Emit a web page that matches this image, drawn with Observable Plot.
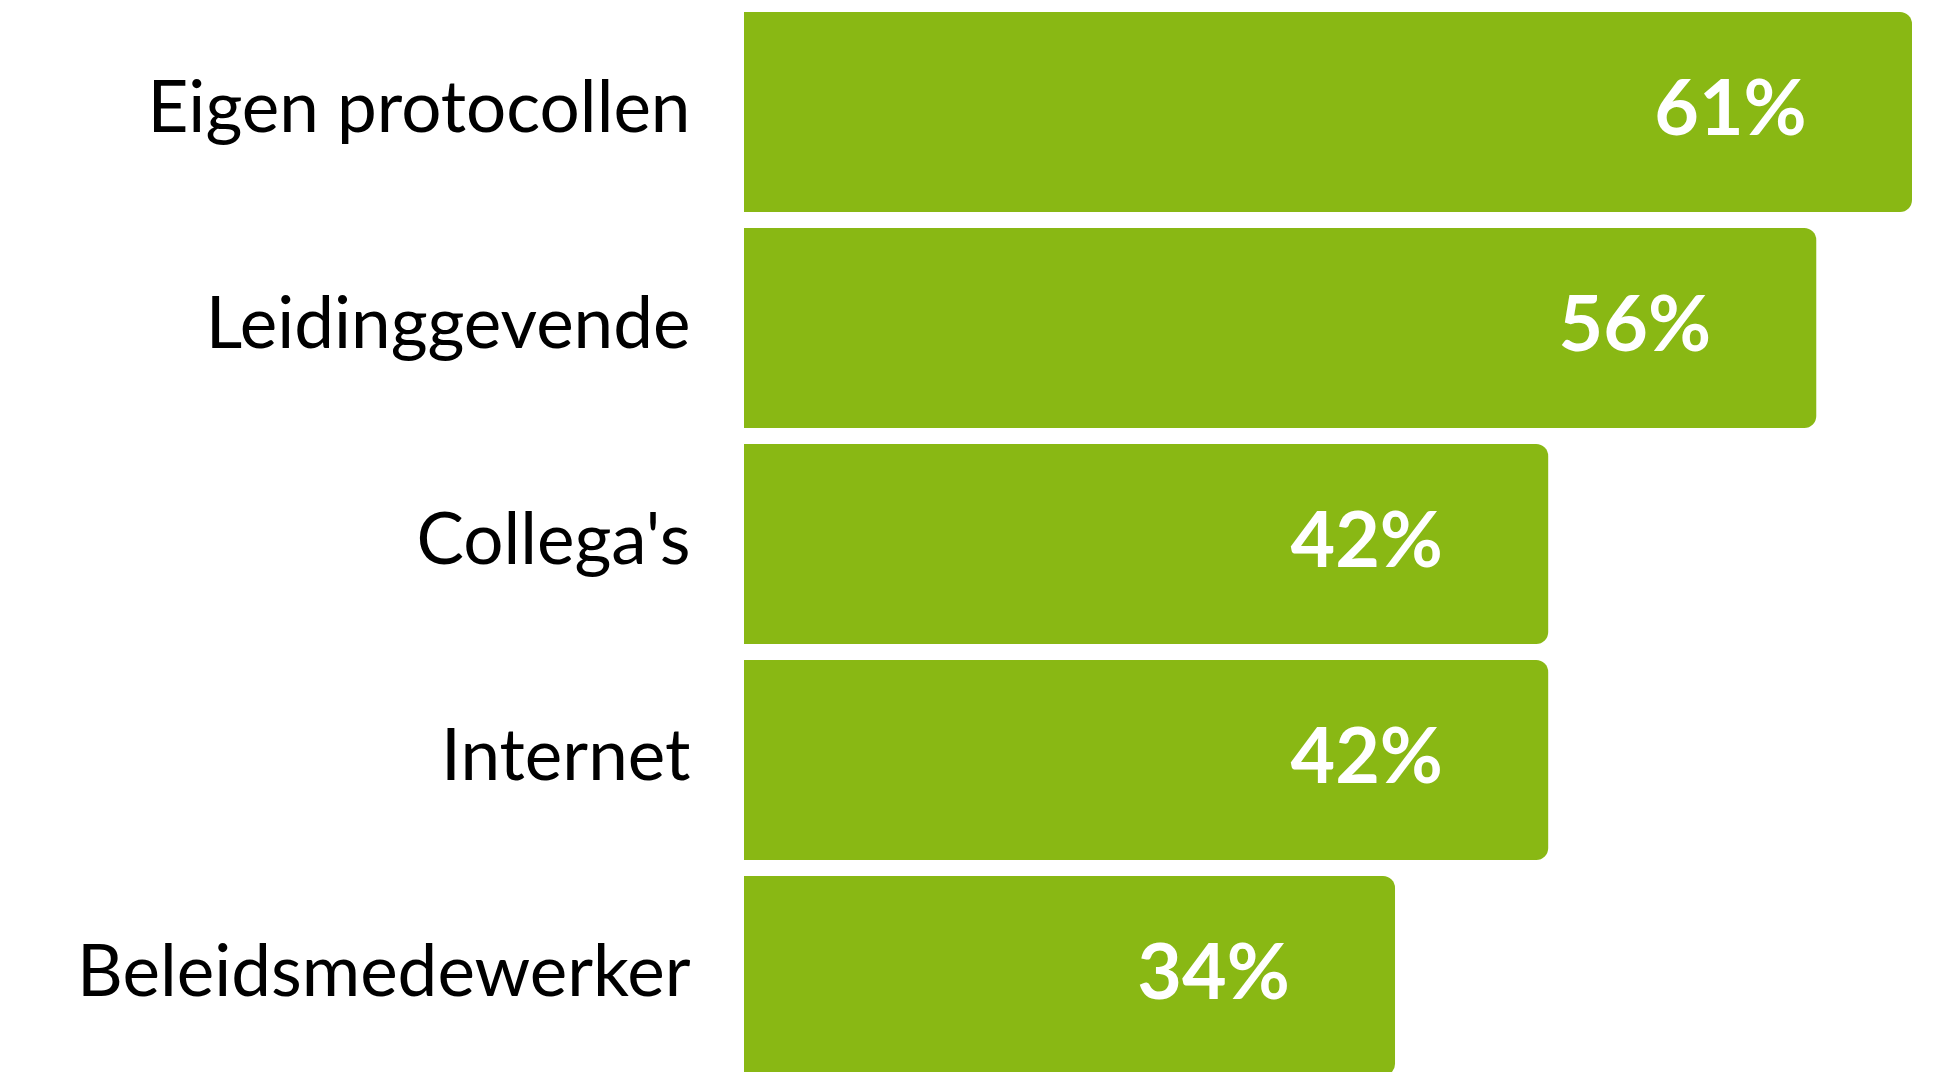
<!DOCTYPE html>
<html>
<head>
<meta charset="utf-8">
<script src="https://cdn.jsdelivr.net/npm/d3@7"></script>
<script src="https://cdn.jsdelivr.net/npm/@observablehq/plot@0.6"></script>
<style>
  html, body { margin: 0; padding: 0; background: #fff; overflow: hidden; }
  #chart svg { display: block; }
</style>
</head>
<body>
<div id="chart"></div>
<script>
const categories = ["Eigen protocollen", "Leidinggevende", "Collega's", "Internet", "Beleidsmedewerker"];
const values = [61, 56, 42, 42, 34];
const labels = ["61%", "56%", "42%", "42%", "34%"];

const data = categories.map((c, i) => ({category: c, value: values[i], label: labels[i]}));
const green = "#89b814";

const chart = Plot.plot({
  width: 1938,
  height: 1072,
  marginLeft: 0, marginRight: 0, marginTop: 0, marginBottom: 0,
  style: {background: "white", overflow: "visible"},
  x: {domain: [0, 61], range: [744, 1912], axis: null},
  y: {type: "band", domain: categories, range: [3, 1084], paddingInner: 0.075, paddingOuter: 0.0375, round: true, axis: null},
  marks: [
    Plot.barX(data, {y: "category", x1: 0, x2: "value", fill: green, rx: 12}),
    Plot.barX(data, {y: "category", x1: 0, x2: d => d.value / 2, fill: green, shapeRendering: "crispEdges"}),
    Plot.text(data, {y: "category", x: 0, text: "category", textAnchor: "end", dx: -54, dy: -3,
      fontFamily: "Lato", fontSize: 71, fill: "black"}),
    Plot.text(data, {y: "category", x: "value", text: "label", textAnchor: "middle", dx: -182, dy: -2,
      fontFamily: "Lato", fontWeight: "bold", fontSize: 77, fill: "white"})
  ]
});
document.getElementById("chart").append(chart);
</script>
</body>
</html>
